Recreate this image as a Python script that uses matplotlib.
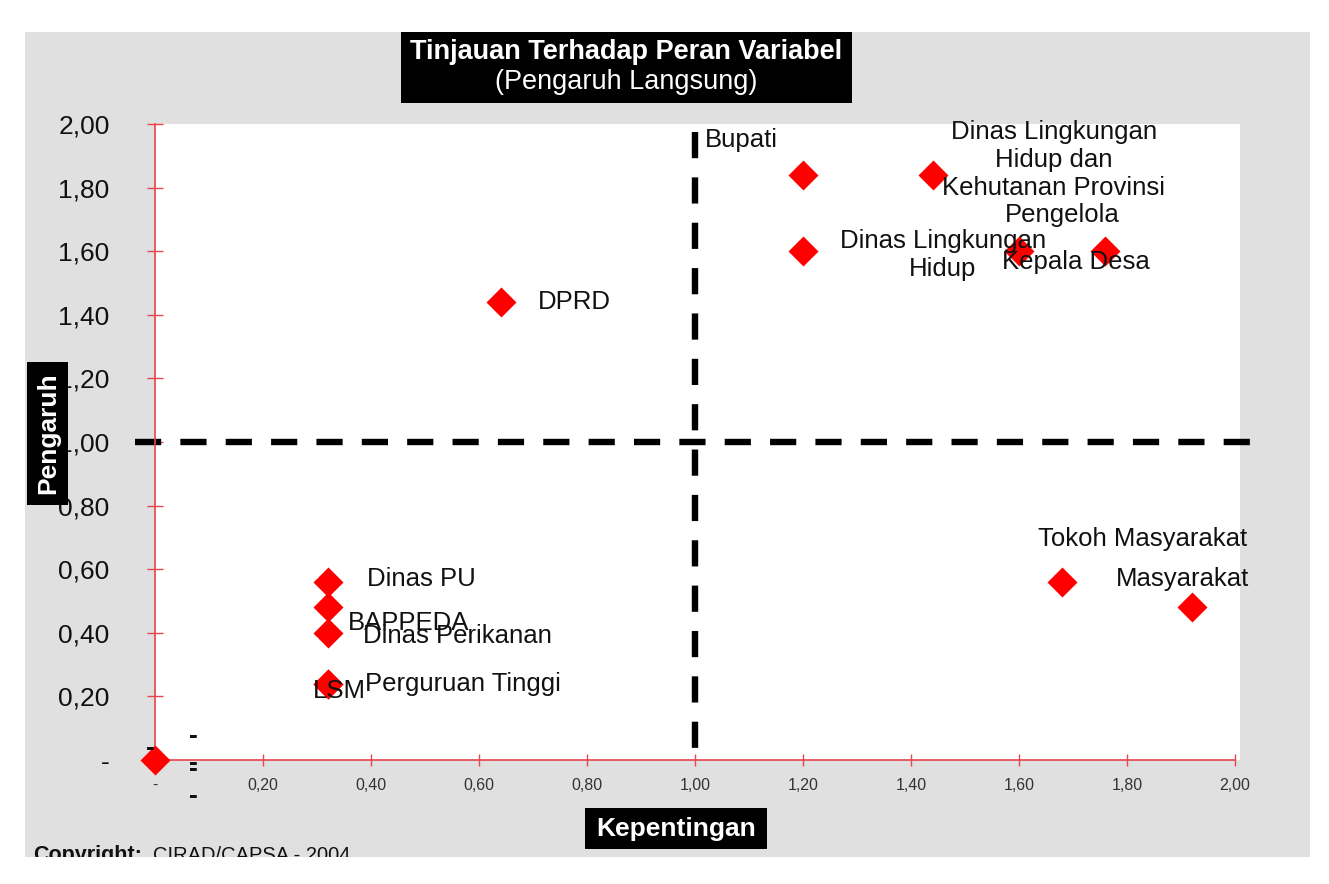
import matplotlib
matplotlib.use('Agg')
import matplotlib.pyplot as plt
import matplotlib.patches as patches
from matplotlib.ticker import FuncFormatter

W, H = 1329, 884
plt.rcParams['font.family'] = ['Liberation Sans', 'DejaVu Sans']

RED_AX = '#e8454d'
GRAY_BG = '#e0e0e0'

# ---- data (Kepentingan = x, Pengaruh = y) ----
names = ['', 'Bupati',
         'Dinas Lingkungan\nHidup dan\nKehutanan Provinsi',
         'Dinas Lingkungan\nHidup', 'Pengelola', 'Kepala Desa', 'DPRD',
         'Dinas PU', 'BAPPEDA', 'Dinas Perikanan', 'LSM', 'Perguruan Tinggi',
         'Tokoh Masyarakat', 'Masyarakat']
kepentingan = [0.00, 1.20, 1.44, 1.20, 1.60, 1.76, 0.64,
               0.32, 0.32, 0.32, 0.32, 0.32, 1.68, 1.92]
pengaruh = [0.00, 1.84, 1.84, 1.60, 1.60, 1.60, 1.44,
            0.56, 0.48, 0.40, 0.24, 0.24, 0.56, 0.48]
ticks = [0.0, 0.2, 0.4, 0.6, 0.8, 1.0, 1.2, 1.4, 1.6, 1.8, 2.0]

# label placement: pixel offset (right, down) from the point + alignment
label_off = [(0, 0), (-98, -35), (121, -15), (140, 4), (43, -36), (-30, 11),
             (37, 0), (39, -3), (20, 16), (35, 3), (-15, 7), (37, 0),
             (80, -43), (-9, -28)]
label_ha = ['left', 'left', 'center', 'center', 'center', 'center', 'left',
            'left', 'left', 'left', 'left', 'left', 'center', 'center']

# stray "-" labels of zero-valued points around the origin
dash_off = [(38, -25), (38, 2), (38, 8), (38, 35), (-5, -13)]


def fx(px):
    return px / W


def fy(py):
    return 1 - py / H


fig = plt.figure(figsize=(W / 100, H / 100), dpi=100)
fig.patch.set_facecolor('white')
fig.add_artist(patches.Rectangle((fx(25), fy(857)), fx(1310) - fx(25), fy(32) - fy(857),
                                 transform=fig.transFigure, facecolor=GRAY_BG,
                                 edgecolor='none', zorder=-5))

ax = fig.add_axes([fx(155), fy(760), fx(1240) - fx(155), fy(124) - fy(760)])
ax.set_facecolor('white')
ax.set_xticks(ticks)
ax.set_yticks(ticks)
ax.set_xlim(0, 2 * 1085 / 1080)
ax.set_ylim(0, 2)

for s in ['top', 'right']:
    ax.spines[s].set_visible(False)
for s in ['left', 'bottom']:
    ax.spines[s].set_color(RED_AX)
    ax.spines[s].set_linewidth(1.2)
ax.spines['bottom'].set_bounds(0, 2)


def fmt(v, pos):
    if abs(v) < 1e-9:
        return '-'
    return f'{v:.2f}'.replace('.', ',')


ax.xaxis.set_major_formatter(FuncFormatter(fmt))
ax.yaxis.set_major_formatter(FuncFormatter(fmt))
ax.tick_params(axis='y', direction='inout', length=11.5, width=1, color=RED_AX,
               labelsize=19, pad=27, labelcolor='#111111')
ax.tick_params(axis='x', direction='inout', length=8, width=1, color=RED_AX,
               labelsize=11.5, pad=9, labelcolor='#333333')

# quadrant lines
ax.plot([1.0, 1.0], [1.975, 0.03], color='black', lw=4.6, dashes=(4.1, 3.0),
        clip_on=False, zorder=2)
ax.plot([-0.037, 2.04], [1.0, 1.0], color='black', lw=4.6, dashes=(4.1, 3.0),
        clip_on=False, zorder=2)

ax.plot(kepentingan, pengaruh, ls='none', marker='D', ms=15.5, color='#ff0000',
        mec='none', clip_on=False, zorder=3)

for name, x, y, (dx, dy), ha in zip(names, kepentingan, pengaruh, label_off, label_ha):
    if not name:
        continue
    ax.annotate(name, (x, y), xytext=(dx, -dy), textcoords='offset pixels',
                ha=ha, va='center', fontsize=18.5, linespacing=1.22,
                color='#111111', zorder=4, annotation_clip=False)

for dx, dy in dash_off:
    ax.annotate('-', (kepentingan[0], pengaruh[0]), xytext=(dx, -dy - 8),
                textcoords='offset pixels', ha='center', va='baseline',
                fontsize=19, fontweight='bold', color='#111111', zorder=4,
                annotation_clip=False)

# title box
fig.add_artist(patches.Rectangle((fx(401), fy(103)), fx(852) - fx(401), fy(32) - fy(103),
                                 transform=fig.transFigure, facecolor='black',
                                 edgecolor='none', zorder=5))
fig.text(fx(626), fy(52), 'Tinjauan Terhadap Peran Variabel', ha='center', va='center',
         fontsize=19.5, fontweight='bold', color='white', zorder=6)
fig.text(fx(626), fy(82), '(Pengaruh Langsung)', ha='center', va='center',
         fontsize=19.5, color='white', zorder=6)

# axis title boxes
fig.add_artist(patches.Rectangle((fx(27), fy(505)), fx(68) - fx(27), fy(362) - fy(505),
                                 transform=fig.transFigure, facecolor='black',
                                 edgecolor='none', zorder=5))
fig.text(fx(48), fy(433), 'Pengaruh', rotation=90, ha='center', va='center',
         fontsize=19, fontweight='bold', color='white', zorder=6)
fig.add_artist(patches.Rectangle((fx(585), fy(849)), fx(767) - fx(585), fy(808) - fy(849),
                                 transform=fig.transFigure, facecolor='black',
                                 edgecolor='none', zorder=5))
fig.text(fx(676), fy(829), 'Kepentingan', ha='center', va='center',
         fontsize=19, fontweight='bold', color='white', zorder=6)

# copyright line, cut off at the bottom edge of the grey panel
fig.text(fx(33), fy(861), 'Copyright:', ha='left', va='baseline', fontsize=15.5,
         fontweight='bold', color='#111111', zorder=6)
fig.text(fx(153), fy(861), 'CIRAD/CAPSA - 2004', ha='left', va='baseline', fontsize=14.5,
         color='#111111', zorder=6)
fig.add_artist(patches.Rectangle((0, 0), 1, fy(857), transform=fig.transFigure,
                                 facecolor='white', edgecolor='none', zorder=10))

fig.savefig('out.png', dpi=100)
